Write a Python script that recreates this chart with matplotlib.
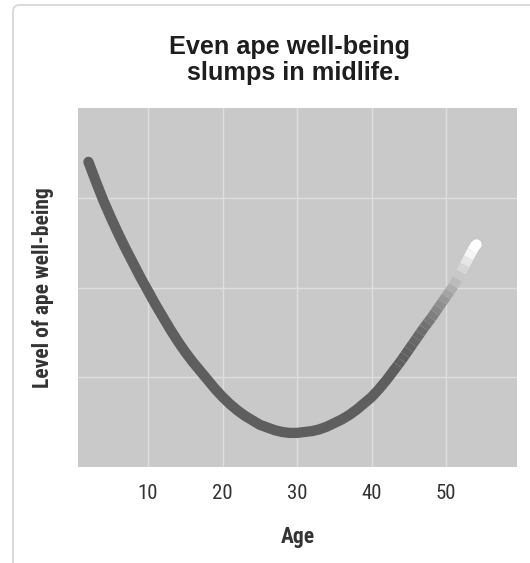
"""
Ape well-being across age: U-shaped curve, fading to white at the end.
"""

import matplotlib.pyplot as plt
from matplotlib.collections import LineCollection
from matplotlib.patches import FancyBboxPatch
from matplotlib import font_manager
import numpy as np

# Data (age in years, well-being in grid units)
ages = [2, 3, 4, 5, 6, 7, 8, 9, 10, 11, 12, 13, 14, 15, 16, 17, 18, 19, 20,
        21, 22, 23, 24, 25, 26, 27, 28, 29, 30, 31, 32, 33, 34, 35, 36, 37,
        38, 39, 40, 41, 42, 43]
wellbeing = [3.40, 3.18, 2.97, 2.78, 2.60, 2.43, 2.27, 2.11, 1.96, 1.81,
             1.67, 1.53, 1.40, 1.28, 1.17, 1.07, 0.97, 0.87, 0.78, 0.70,
             0.63, 0.57, 0.52, 0.47, 0.44, 0.41, 0.39, 0.38, 0.38, 0.39,
             0.40, 0.42, 0.45, 0.49, 0.53, 0.58, 0.64, 0.71, 0.78, 0.87,
             0.97, 1.08]
# the fading tail, read at half-year spacing
tail_ages = [43, 43.5, 44, 44.5, 45, 45.5, 46, 46.5, 47, 47.5, 48, 48.5, 49,
             49.5, 50, 50.5, 51, 51.5, 52, 52.5, 53, 53.5, 54]
tail_wellbeing = [1.08, 1.135, 1.19, 1.25, 1.31, 1.37, 1.43, 1.49, 1.55,
                  1.605, 1.66, 1.72, 1.78, 1.84, 1.90, 1.96, 2.02, 2.095,
                  2.17, 2.25, 2.33, 2.41, 2.48]
x_ticks = [10, 20, 30, 40, 50]
y_grid = [1, 2, 3]

title = 'Even ape well-being\n slumps in midlife.'
x_label = 'Age'
y_label = 'Level of ape well-being'

# Colours
bg_color = '#c9c9c9'
grid_color = '#dedede'
curve_gray = 0.37
text_color = '#333333'

# pick a condensed face if one is installed
installed = {f.name for f in font_manager.fontManager.ttflist}
narrow = [n for n in ['Roboto Condensed', 'DejaVu Sans Condensed',
                      'Liberation Sans Narrow']
          if n in installed] + ['DejaVu Sans']

fig = plt.figure(figsize=(5.30, 5.63), dpi=100)

# light rounded frame around the whole graphic (runs off right/bottom)
frame = FancyBboxPatch((13 / 530, -0.05), 1.2, (563 - 5) / 563 + 0.05,
                       boxstyle='round,pad=0,rounding_size=0.012',
                       transform=fig.transFigure, facecolor='none',
                       edgecolor='#d9d9d9', linewidth=1.4)
fig.patches.append(frame)

ax = fig.add_axes([78 / 530, (563 - 467) / 563, 439 / 530, 359 / 563])
ax.set_facecolor(bg_color)
for s in ax.spines.values():
    s.set_visible(False)

ax.set_xlim(0.6, 59.5)
ax.set_ylim(0, 4)

for xt in x_ticks:
    ax.axvline(xt, color=grid_color, lw=1.0, zorder=1)
for yg in y_grid:
    ax.axhline(yg, color=grid_color, lw=1.0, zorder=1)

lw = 7.4
base = (curve_gray,) * 3

# solid dark part of the curve
ax.plot(ages, wellbeing, color=base, lw=lw, solid_capstyle='round',
        solid_joinstyle='round', zorder=3)

# fading part: per-segment gray levels towards white
fx = np.array(tail_ages)
fy = np.array(tail_wellbeing)
pts = np.column_stack([fx, fy]).reshape(-1, 1, 2)
segs = np.concatenate([pts[:-1], pts[1:]], axis=1)
mid = (fx[:-1] + fx[1:]) / 2
t = np.clip((mid - fx[0]) / (fx[-1] - 0.5 - fx[0]), 0, 1) ** 2.3
g = curve_gray + (1 - curve_gray) * t
lc = LineCollection(segs, colors=[(v, v, v) for v in g], linewidths=lw,
                    capstyle='butt', joinstyle='round', zorder=3)
ax.add_collection(lc)
ax.plot(fx[-1:], fy[-1:], 'o', color='white', ms=lw, mew=0, zorder=4)

ax.set_xticks(x_ticks)
ax.set_xticklabels([str(v) for v in x_ticks], fontsize=15, family=narrow,
                   color=text_color)
ax.set_yticks([])
ax.tick_params(axis='x', length=0, pad=12.5)

ax.set_xlabel(x_label, fontsize=15.5, family=narrow, fontweight='bold',
              color=text_color, labelpad=16)
ax.set_ylabel(y_label, fontsize=15.5, family=narrow, fontweight='bold',
              color=text_color, labelpad=17)

fig.text(0.547, 0.894, title, ha='center', va='center', fontsize=18.2,
         fontweight='bold', family=['Liberation Sans', 'DejaVu Sans'],
         color='#1e1e1e', linespacing=1.1)

plt.savefig('out.png', dpi=100)
